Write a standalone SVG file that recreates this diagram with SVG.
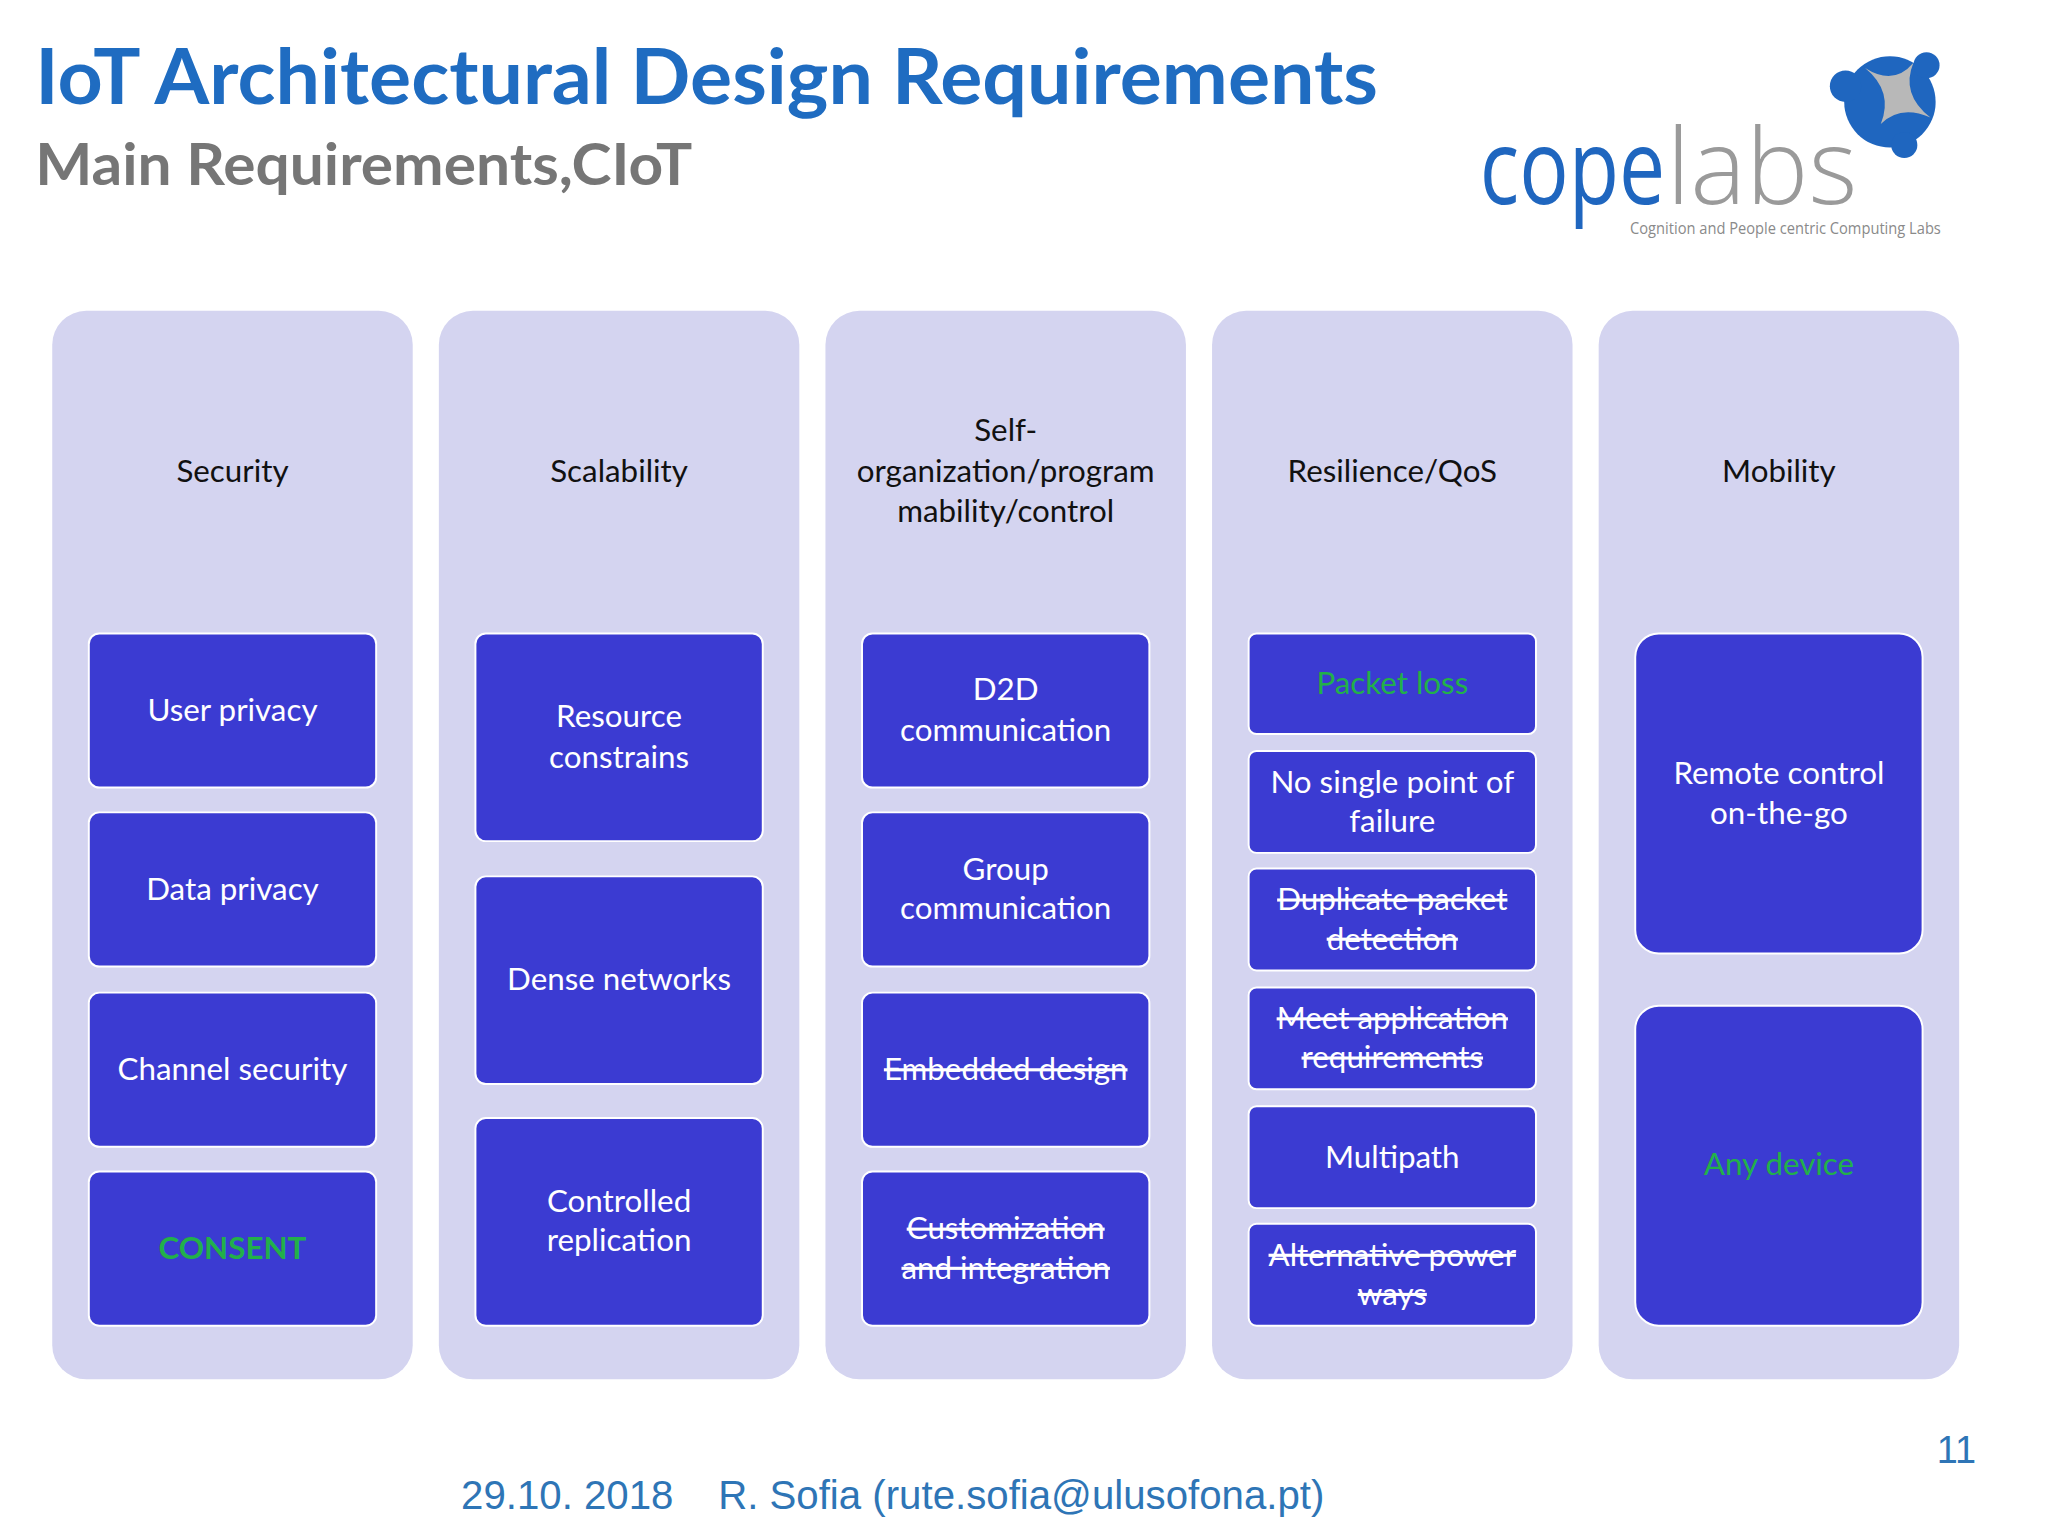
<svg xmlns="http://www.w3.org/2000/svg" width="2048" height="1536" viewBox="0 0 2048 1536">
<style>
.col{fill:#d4d4f0}
.box{fill:#3b3bd2;stroke:#ffffff;stroke-width:1.5}
.h{font-family:Lato,"Open Sans",sans-serif;font-size:24px;fill:#111;text-anchor:middle}
.t{font-family:Lato,"Open Sans",sans-serif;font-size:24px;fill:#fff;text-anchor:middle}
.g{fill:#22b04a}
.s{text-decoration:line-through}
</style>
<rect width="2048" height="1536" fill="#fff"/>
<g transform="scale(1.3061)">
<g id="title">
<text x="27" y="80" font-family="Lato,'Open Sans',sans-serif" font-weight="bold" font-size="58" fill="#1f6cc1" textLength="1028" lengthAdjust="spacingAndGlyphs">IoT Architectural Design Requirements</text>
<text x="27" y="142" font-family="Lato,'Open Sans',sans-serif" font-weight="bold" font-size="44" fill="#767676" textLength="503" lengthAdjust="spacingAndGlyphs">Main Requirements,CIoT</text>
</g>
<g id="logo">
<circle cx="1447" cy="78" r="35" fill="#1f66bf"/>
<path d="M1428 52 Q1450 70 1440 95 Q1455 80 1478 90 Q1455 72 1465 48 Q1450 66 1428 52Z" fill="#b8b8b8"/>
<circle cx="1413" cy="66" r="12" fill="#1f66bf"/>
<circle cx="1475" cy="50" r="10" fill="#1f66bf"/>
<circle cx="1458" cy="111" r="10" fill="#1f66bf"/>
<text x="1133" y="156" font-family="'Open Sans',sans-serif" font-size="80" fill="#1f66bf" textLength="142" lengthAdjust="spacingAndGlyphs">cope</text>
<text x="1276" y="156" font-family="'Open Sans',sans-serif" font-weight="300" font-size="80" fill="#9a9a9a" textLength="146" lengthAdjust="spacingAndGlyphs">labs</text>
<text x="1248" y="179" font-family="'Open Sans',sans-serif" font-size="12" fill="#8a8a8a" textLength="238" lengthAdjust="spacingAndGlyphs">Cognition and People centric Computing Labs</text>
</g>
<g id="col-security">
<rect class="col" x="40" y="238" width="276" height="818" rx="26"/>
<text class="h" x="178" y="369">Security</text>
<rect class="box" x="68" y="485" width="220" height="118" rx="8"/><text class="t" x="178" y="552">User privacy</text>
<rect class="box" x="68" y="622" width="220" height="118" rx="8"/><text class="t" x="178" y="689">Data privacy</text>
<rect class="box" x="68" y="760" width="220" height="118" rx="8"/><text class="t" x="178" y="827">Channel security</text>
<rect class="box" x="68" y="897" width="220" height="118" rx="8"/><text class="t g" x="178" y="964" font-weight="bold">CONSENT</text>
</g>
<g id="col-scalability">
<rect class="col" x="336" y="238" width="276" height="818" rx="26"/>
<text class="h" x="474" y="369">Scalability</text>
<rect class="box" x="364" y="485" width="220" height="159" rx="8"/><text class="t" x="474" y="557">Resource</text><text class="t" x="474" y="588">constrains</text>
<rect class="box" x="364" y="671" width="220" height="159" rx="8"/><text class="t" x="474" y="758">Dense networks</text>
<rect class="box" x="364" y="856" width="220" height="159" rx="8"/><text class="t" x="474" y="928">Controlled</text><text class="t" x="474" y="958">replication</text>
</g>
<g id="col-selforg">
<rect class="col" x="632" y="238" width="276" height="818" rx="26"/>
<text class="h" x="770" y="338">Self-</text><text class="h" x="770" y="369">organization/program</text><text class="h" x="770" y="400">mability/control</text>
<rect class="box" x="660" y="485" width="220" height="118" rx="8"/><text class="t" x="770" y="536">D2D</text><text class="t" x="770" y="567">communication</text>
<rect class="box" x="660" y="622" width="220" height="118" rx="8"/><text class="t" x="770" y="674">Group</text><text class="t" x="770" y="704">communication</text>
<rect class="box" x="660" y="760" width="220" height="118" rx="8"/><text class="t s" x="770" y="827">Embedded design</text>
<rect class="box" x="660" y="897" width="220" height="118" rx="8"/><text class="t s" x="770" y="949">Customization</text><text class="t s" x="770" y="979">and integration</text>
</g>
<g id="col-resilience">
<rect class="col" x="928" y="238" width="276" height="818" rx="26"/>
<text class="h" x="1066" y="369">Resilience/QoS</text>
<rect class="box" x="956" y="485" width="220" height="77" rx="6"/><text class="t g" x="1066" y="531">Packet loss</text>
<rect class="box" x="956" y="575" width="220" height="78" rx="6"/><text class="t" x="1066" y="607">No single point of</text><text class="t" x="1066" y="637">failure</text>
<rect class="box" x="956" y="665" width="220" height="78" rx="6"/><text class="t s" x="1066" y="697">Duplicate packet</text><text class="t s" x="1066" y="727">detection</text>
<rect class="box" x="956" y="756" width="220" height="78" rx="6"/><text class="t s" x="1066" y="788">Meet application</text><text class="t s" x="1066" y="818">requirements</text>
<rect class="box" x="956" y="847" width="220" height="78" rx="6"/><text class="t" x="1066" y="894">Multipath</text>
<rect class="box" x="956" y="937" width="220" height="78" rx="6"/><text class="t s" x="1066" y="969">Alternative power</text><text class="t s" x="1066" y="999">ways</text>
</g>
<g id="col-mobility">
<rect class="col" x="1224" y="238" width="276" height="818" rx="26"/>
<text class="h" x="1362" y="369">Mobility</text>
<rect class="box" x="1252" y="485" width="220" height="245" rx="18"/><text class="t" x="1362" y="600">Remote control</text><text class="t" x="1362" y="631">on-the-go</text>
<rect class="box" x="1252" y="770" width="220" height="245" rx="18"/><text class="t g" x="1362" y="900">Any device</text>
</g>
<g id="footer">
<text x="353" y="1155" font-family="'Liberation Sans',Arial,sans-serif" font-size="31" fill="#2e75b6" xml:space="preserve" textLength="661" lengthAdjust="spacingAndGlyphs">29.10. 2018    R. Sofia (rute.sofia@ulusofona.pt)</text>
<text x="1513" y="1120" font-family="'Liberation Sans',Arial,sans-serif" font-size="29" fill="#2e75b6" text-anchor="end">11</text>
</g>
<g id="connectors"/>
</g>
</svg>
